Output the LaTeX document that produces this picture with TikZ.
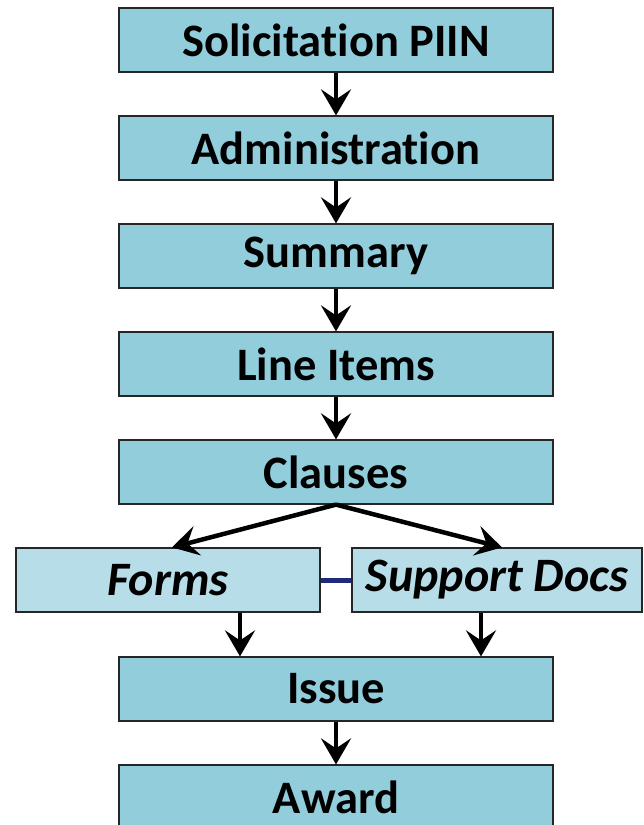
\documentclass[tikz,border=0pt]{standalone}
\usepackage{fontspec}
\setmainfont{Carlito}[Ligatures={NoCommon,NoContextual},RawFeature={-liga;-clig}]
\usetikzlibrary{arrows.meta,positioning}
\definecolor{mainfill}{HTML}{92CDDC}
\definecolor{subfill}{HTML}{B7DDE8}
\definecolor{navy}{HTML}{1F2A78}
\tikzset{
  mainbox/.style={draw=black!85, line width=1.2pt, fill=mainfill, minimum width=434pt, minimum height=64pt, inner sep=0pt, font=\fontsize{46.5}{52}\selectfont\bfseries},
  subbox/.style={draw=black!85, line width=1.2pt, fill=subfill, minimum height=64pt, inner sep=0pt, font=\fontsize{48}{54}\selectfont\bfseries\itshape},
  flow/.style={line width=4.5pt, -{Stealth[length=26pt, width=30pt, inset=10pt]}},
}
\begin{document}
\begin{tikzpicture}[x=1pt,y=-1pt]
\useasboundingbox (0,0) rectangle (644,825);
\node[mainbox] (sol) at (336,40) {Solicitation PIIN};
\node[mainbox] (adm) at (336,148) {Administration};
\node[mainbox] (sum) at (336,256) {Summary};
\node[mainbox] (li) at (336,364) {Line Items};
\node[mainbox] (cl) at (336,472) {Clauses};
\node[subbox, minimum width=304pt] (forms) at (168,580) {Forms};
\node[subbox, minimum width=290pt] (sup) at (497,580) {Support Docs};
\node[mainbox] (iss) at (336,689) {Issue};
\node[mainbox] (awd) at (336,797) {Award};
\draw[flow] (sol) -- (adm);
\draw[flow] (adm) -- (sum);
\draw[flow] (sum) -- (li);
\draw[flow] (li) -- (cl);
\draw[flow] (cl.south) -- (forms.north -| 172,0);
\draw[flow] (cl.south) -- (sup.north -| 502,0);
\draw[flow] (forms.south -| 240,0) -- (iss.north -| 240,0);
\draw[flow] (sup.south -| 481,0) -- (iss.north -| 481,0);
\draw[flow] (iss) -- (awd);
\draw[navy, line width=5pt] (forms.east) -- (sup.west);
\end{tikzpicture}
\end{document}
